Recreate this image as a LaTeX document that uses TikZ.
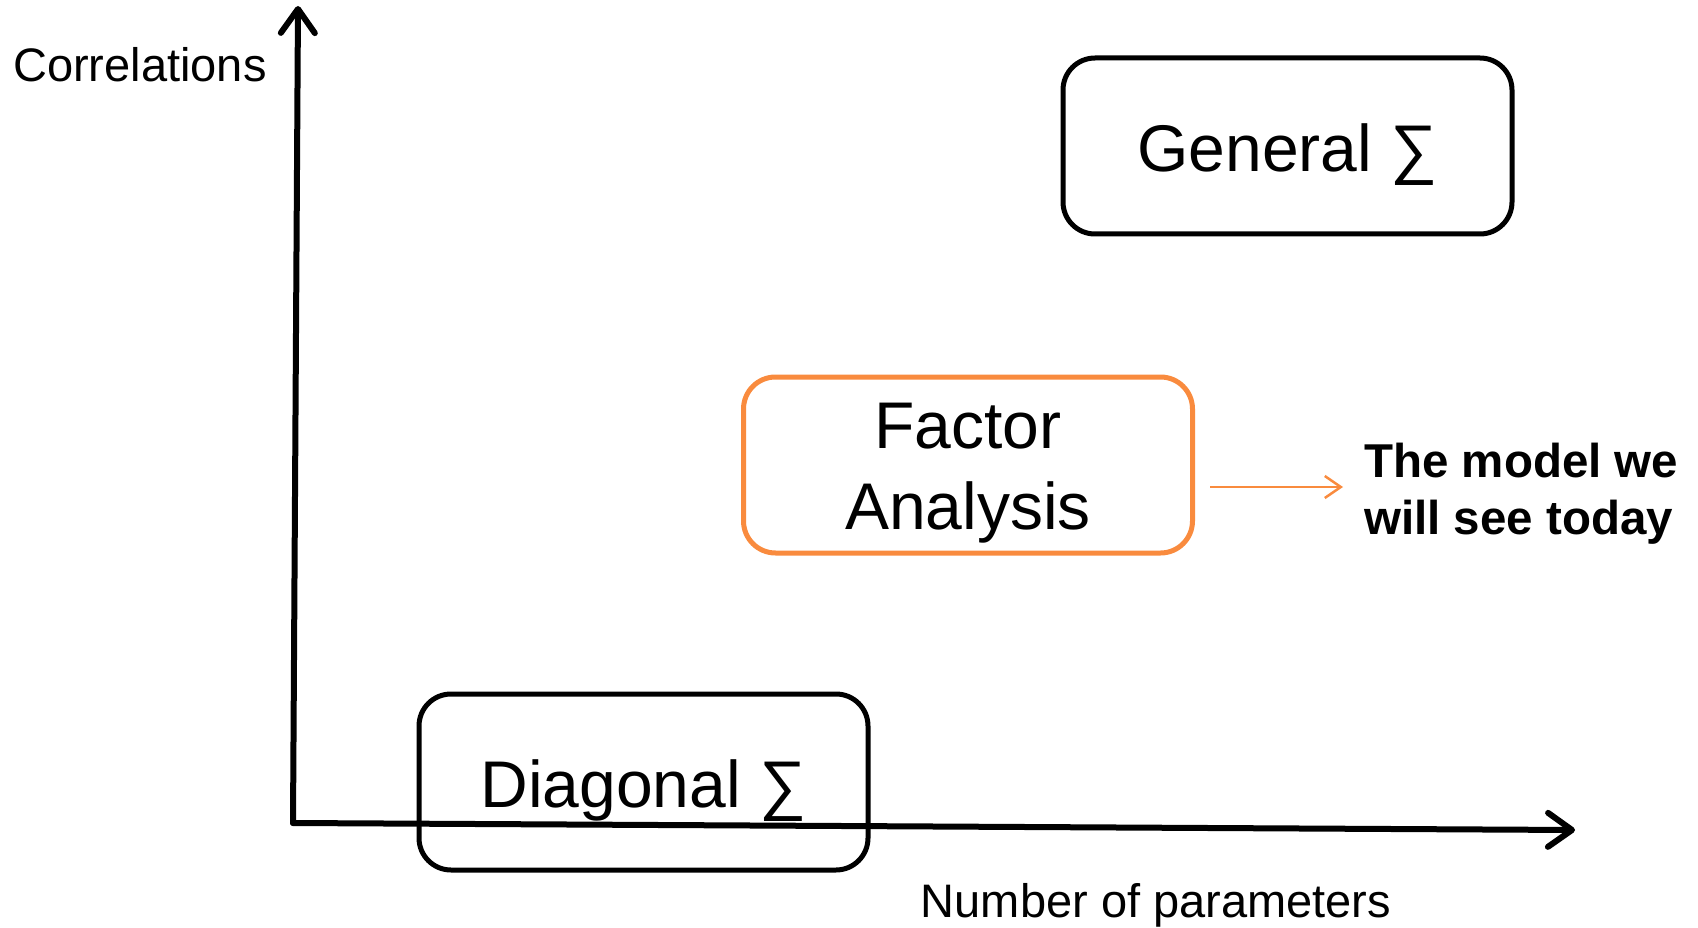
\documentclass[tikz,border=0pt]{standalone}
\usepackage{fontspec}
\setmainfont{Liberation Sans}
\usetikzlibrary{arrows.meta}
\definecolor{faorange}{HTML}{F98B3E}
\tikzset{
  box/.style={draw=black, line width=5pt, rounded corners=32pt, minimum width=449pt, minimum height=176pt, inner sep=0pt},
  bigtext/.style={font=\fontsize{66}{81}\selectfont, align=center, inner sep=0pt},
  axistext/.style={font=\fontsize{47}{56}\selectfont, inner sep=0pt},
  axis/.style={line width=6pt, line cap=round, -{Straight Barb[length=24pt, width=34pt, round]}},
}
\begin{document}
\begin{tikzpicture}[x=1pt, y=-1pt]
\useasboundingbox (0,0) rectangle (1698,928);
\coordinate (origin) at (293,823);
\coordinate (ytop) at (298,6);
\coordinate (xend) at (1575,830);
\draw[axis, line join=round] (origin) -- (ytop);
\draw[axis] (origin) -- (xend);
\node[box] (general) at (1287.5,146) {};
\node[bigtext] (generaltext) at ([yshift=-9pt]general.center) {General ∑};
\node[box, draw=faorange] (fa) at (968,465) {};
\node[bigtext] (fatext) at ([yshift=-8pt]fa.center) {Factor\\Analysis};
\node[box] (diag) at (643.5,782) {};
\node[bigtext] (diagtext) at ([yshift=-9pt]diag.center) {Diagonal ∑};
\node[axistext, anchor=west] (corr) at (13,65) {Correlations};
\node[axistext] (npar) at (1156,905) {Number of parameters};
\node[anchor=west, align=left, inner sep=0pt, font=\bfseries\fontsize{47.5}{57}\selectfont] (model) at (1364,494) {The model we\\will see today};
\draw[faorange, line width=2.5pt, -{Straight Barb[length=16pt, width=22pt]}] ([xshift=15pt]fa.east |- 0,487) coordinate (fastart) -- (1343,487) coordinate (faend);
\end{tikzpicture}
\end{document}
